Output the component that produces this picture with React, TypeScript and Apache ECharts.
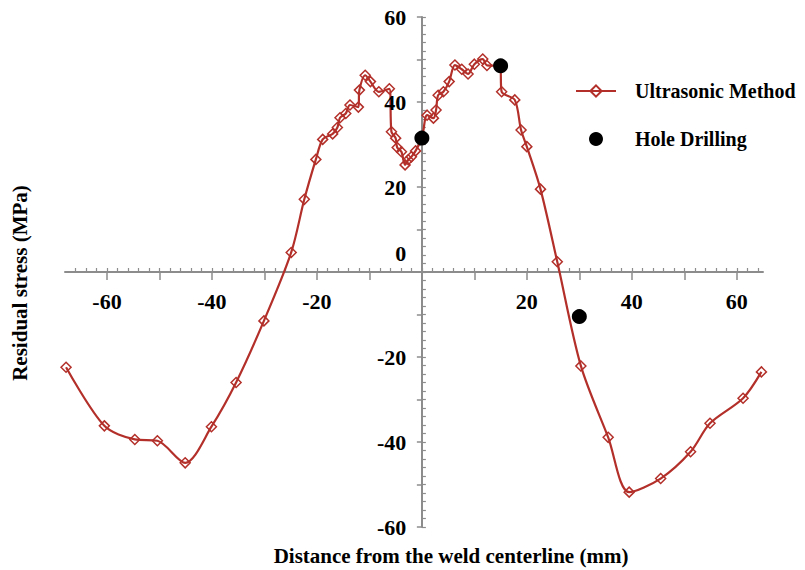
import React, { useEffect, useRef } from 'react';
import * as echarts from 'echarts';

const ultrasonicX = [-67.8, -60.5, -54.7, -50.4, -45.1, -40.1, -35.4, -30.1, -24.9, -22.4, -20.2, -18.9, -17.0, -16.1, -15.6, -14.5, -13.7, -12.1, -11.9, -10.8, -9.8, -8.2, -6.2, -5.8, -5.0, -4.7, -3.9, -3.2, -2.6, -2.0, -1.2, 0.0, 1.0, 2.2, 2.7, 3.1, 4.1, 5.2, 6.3, 7.6, 8.8, 10.0, 11.6, 12.4, 14.9, 15.2, 17.7, 18.9, 20.0, 22.6, 25.8, 30.3, 35.5, 39.5, 45.5, 51.2, 54.9, 61.2, 64.7];
const ultrasonicY = [-22.4, -36.2, -39.4, -39.7, -44.9, -36.4, -26.0, -11.5, 4.6, 17.1, 26.5, 31.2, 32.5, 34.0, 36.3, 37.3, 39.3, 38.8, 42.8, 46.3, 44.8, 42.4, 43.1, 33.0, 31.5, 29.3, 28.3, 25.2, 26.4, 27.1, 28.5, 31.5, 36.9, 36.2, 38.1, 41.6, 42.4, 44.8, 48.7, 47.7, 46.6, 48.9, 50.1, 48.6, 48.5, 42.4, 40.5, 33.4, 29.5, 19.5, 2.4, -22.1, -38.9, -51.8, -48.6, -42.3, -35.6, -29.7, -23.5];

const holeX = [0, 15, 30];
const holeY = [31.5, 48.5, -10.5];

const xMajorTicks = [-60, -50, -40, -30, -20, -10, 0, 10, 20, 30, 40, 50, 60];
const xTickLabels = [-60, -40, -20, 20, 40, 60];
const xMinorTicks = [-66, -64, -62, -60, -58, -56, -54, -52, -50, -48, -46, -44, -42, -40, -38, -36, -34, -32, -30, -28, -26, -24, -22, -20, -18, -16, -14, -12, -10, -8, -6, -4, -2, 0, 2, 4, 6, 8, 10, 12, 14, 16, 18, 20, 22, 24, 26, 28, 30, 32, 34, 36, 38, 40, 42, 44, 46, 48, 50, 52, 54, 56, 58, 60, 62, 64];
const yTickLabels = [-60, -40, -20, 0, 20, 40, 60];
const yMinorTicks = [-60, -58, -56, -54, -52, -50, -48, -46, -44, -42, -40, -38, -36, -34, -32, -30, -28, -26, -24, -22, -20, -18, -16, -14, -12, -10, -8, -6, -4, -2, 0, 2, 4, 6, 8, 10, 12, 14, 16, 18, 20, 22, 24, 26, 28, 30, 32, 34, 36, 38, 40, 42, 44, 46, 48, 50, 52, 54, 56, 58, 60];

const seriesNames = ['Ultrasonic Method', 'Hole Drilling'];
const xTitle = 'Distance from the weld centerline (mm)';
const yTitle = 'Residual stress (MPa)';

const FONT = '"Liberation Serif", "Times New Roman", serif';
const RED = '#b3302a';
const AXIS = '#8c8c8c';

export default function App() {
  const ref = useRef<HTMLDivElement>(null);
  useEffect(() => {
    if (!ref.current) return;
    const chart = echarts.init(ref.current, undefined, { renderer: 'svg' });
    const labelStyle = {
      fontFamily: FONT,
      fontWeight: 'bold' as const,
      fontSize: 21,
      color: '#000',
    };
    const tickLabelStyle = { ...labelStyle, fontSize: 22, opacity: 1 };
    const ultraData = ultrasonicX.map((x, i) => [x, ultrasonicY[i]]);
    const holeData = holeX.map((x, i) => [x, holeY[i]]);
    const xLabelData = xTickLabels.map((v) => [v, 0]);
    const yLabelData = yTickLabels.map((v) =>
      v === 0 ? { value: [0, v], label: { offset: [0, -19] } } : { value: [0, v] }
    );
    chart.setOption({
      animation: false,
      backgroundColor: '#ffffff',
      grid: { left: 65, top: 17, width: 698, height: 510, containLabel: false },
      legend: {
        orient: 'vertical',
        left: 570,
        top: 76,
        itemGap: 28,
        itemWidth: 40,
        itemHeight: 14,
        textStyle: { ...labelStyle, fontSize: 20, padding: [0, 0, 0, 14] },
        data: [
          { name: seriesNames[0] },
          { name: seriesNames[1], icon: 'circle', itemStyle: { color: '#000', opacity: 1 } },
        ],
      },
      xAxis: [
        {
          type: 'value',
          min: -68,
          max: 65,
          splitNumber: 13,
          axisLine: { onZero: true, lineStyle: { color: AXIS, width: 2 } },
          axisTick: { show: true, inside: false, length: 8, customValues: xMajorTicks, lineStyle: { color: AXIS, width: 1.5 } },
          axisLabel: { show: false },
          splitLine: { show: false },
        },
        {
          type: 'value',
          min: -68,
          max: 65,
          position: 'bottom',
          splitNumber: 13,
          axisLine: { show: false, onZero: true },
          axisTick: { show: true, inside: true, length: 4, customValues: xMinorTicks, lineStyle: { color: AXIS, width: 1.2 } },
          axisLabel: { show: false },
          splitLine: { show: false },
        },
      ],
      yAxis: [
        {
          type: 'value',
          min: -60,
          max: 60,
          interval: 10,
          axisLine: { onZero: true, lineStyle: { color: AXIS, width: 2 } },
          axisTick: { show: true, inside: false, length: 5, lineStyle: { color: AXIS, width: 1.5 } },
          axisLabel: { show: false },
          splitLine: { show: false },
        },
        {
          type: 'value',
          min: -60,
          max: 60,
          interval: 10,
          position: 'left',
          axisLine: { show: false, onZero: true },
          axisTick: { show: true, inside: true, length: 4, customValues: yMinorTicks, lineStyle: { color: AXIS, width: 1.2 } },
          axisLabel: { show: false },
          splitLine: { show: false },
        },
      ],
      graphic: [
        {
          type: 'text',
          x: 451,
          y: 556,
          style: { text: xTitle, font: `bold 21px ${FONT}`, fill: '#000', textAlign: 'center', textVerticalAlign: 'middle' },
        },
        {
          type: 'text',
          x: 20,
          y: 283,
          rotation: Math.PI / 2,
          style: { text: yTitle, font: `bold 21px ${FONT}`, fill: '#000', textAlign: 'center', textVerticalAlign: 'middle' },
        },
      ],
      series: [
        {
          name: seriesNames[0],
          type: 'line',
          xAxisIndex: 0,
          yAxisIndex: 0,
          data: ultraData,
          smooth: 0.3,
          symbol: 'diamond',
          symbolSize: 10,
          lineStyle: { color: RED, width: 2.2 },
          itemStyle: { color: 'rgba(255,255,255,0)', borderColor: RED, borderWidth: 1.5 },
          z: 3,
        },
        {
          name: seriesNames[1],
          type: 'scatter',
          xAxisIndex: 0,
          yAxisIndex: 0,
          data: holeData,
          symbol: 'circle',
          symbolSize: 15,
          itemStyle: { color: '#000', opacity: 1 },
          z: 4,
        },
        {
          name: 'xTickLabels',
          type: 'scatter',
          xAxisIndex: 0,
          yAxisIndex: 0,
          data: xLabelData,
          symbolSize: 1,
          silent: true,
          itemStyle: { color: 'rgba(0,0,0,0)', opacity: 1 },
          label: {
            show: true,
            position: 'bottom',
            distance: 18,
            ...tickLabelStyle,
            formatter: (p: any) => String(p.value[0]),
          },
          z: 5,
        },
        {
          name: 'yTickLabels',
          type: 'scatter',
          xAxisIndex: 0,
          yAxisIndex: 0,
          data: yLabelData,
          symbolSize: 1,
          silent: true,
          itemStyle: { color: 'rgba(0,0,0,0)', opacity: 1 },
          label: {
            show: true,
            position: 'left',
            distance: 15,
            ...tickLabelStyle,
            formatter: (p: any) => String(p.value[1]),
          },
          z: 5,
        },
      ],
    });
    return () => chart.dispose();
  }, []);
  return <div ref={ref} style={{ position: 'absolute', left: 0, top: 0, width: 805, height: 570 }} />;
}
